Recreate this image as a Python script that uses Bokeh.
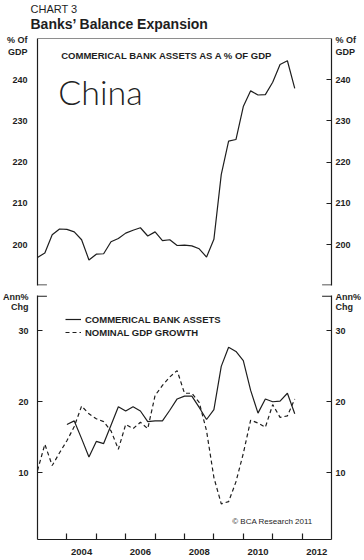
from bokeh.plotting import figure
from bokeh.models import (LinearAxis, FixedTicker, Label, Span, Legend, LegendItem, Range1d, Title)
from bokeh.layouts import column
from bokeh.embed import file_html
from bokeh.resources import INLINE

# ---------------- data ----------------
YEARS = list(range(2003, 2012))
QUARTERS = [f"{y}Q{q}" for y in YEARS for q in (1, 2, 3, 4)]   # 2003Q1 .. 2011Q4


def qpos(label):
    return int(label[:4]) + (int(label[5]) - 1) * 0.25


# Commercial bank assets, % of GDP (2003Q1 .. 2011Q4)
BANK_ASSETS_PCT_GDP = [196.9, 198.0, 202.4, 203.8, 203.7, 203.1, 201.2, 196.3,
                       197.7, 197.8, 200.7, 201.5, 202.8, 203.5, 204.1, 202.1,
                       203.1, 201.0, 201.2, 199.8, 199.9, 199.7, 199.0, 197.0,
                       201.3, 217.0, 225.1, 225.5, 233.5, 237.3, 236.3, 236.4,
                       239.4, 243.7, 244.6, 237.9]
# Commercial bank assets, annual % change (2004Q1 .. 2011Q4)
BANK_ASSETS_GROWTH = [16.8, 17.3, 14.8, 12.2, 14.4, 14.1, 16.7, 19.3,
                      18.7, 19.3, 18.7, 17.2, 17.3, 17.3, 18.8, 20.4,
                      20.8, 20.8, 19.2, 17.5, 18.9, 25.0, 27.7, 27.1,
                      25.8, 21.6, 18.4, 20.4, 20.0, 20.1, 21.2, 18.3]
# Nominal GDP growth, annual % change (2003Q1 .. 2011Q4)
NOMINAL_GDP_GROWTH = [10.3, 14.0, 11.0, 12.8, 14.5, 16.5, 19.4, 18.3,
                      17.6, 17.2, 15.9, 13.3, 16.8, 16.2, 17.1, 16.2,
                      20.9, 22.3, 23.5, 24.4, 21.2, 21.2, 19.9, 15.9,
                      9.3, 5.6, 5.9, 8.7, 12.7, 17.4, 17.0, 16.4,
                      19.6, 17.8, 18.0, 20.4]

TOP_TICKS = [200, 210, 220, 230, 240]
BOTTOM_TICKS = [10, 20, 30]
YEAR_TICKS = list(range(2004, 2013))
YEAR_LABELS = ["2004", "2006", "2008", "2010", "2012"]
UNIT_TOP = ["% Of", "GDP"]
UNIT_BOTTOM = ["Ann%", "Chg"]

x_all = [qpos(q) for q in QUARTERS]
x_growth = x_all[-len(BANK_ASSETS_GROWTH):]

# ---------------- style / geometry ----------------
INK = "#1e1e1e"
FONT = "Liberation Sans"
W = 364
BL, BR = 34, 33                  # left / right borders (frame 297 px wide)
FW = W - BL - BR
XMIN, XMAX = 2003.0, 2013.0
T_TOP, T_BOT, T_H = 38, 5, 290   # top figure
TY0, TY1 = 190.1, 250.0
B_TOP, B_BOT, B_H = 5, 21, 270   # bottom figure
BY1 = 35.0
T_FH = T_H - T_TOP - T_BOT
B_FH = B_H - B_TOP - B_BOT
B_PX = 7.085                     # px per unit, bottom
BY0 = BY1 - B_FH / B_PX
T_PX = T_FH / (TY1 - TY0)        # px per unit, top


def X(px):
    return XMIN + (px - BL) * (XMAX - XMIN) / FW


def YT(py):                      # page y -> top-panel value
    return TY1 - (py - T_TOP) / T_PX


def YB(py):                      # page y -> bottom-panel value
    return BY1 - (py - T_H - B_TOP) / B_PX


def lab(p, x, y, text, size="9px", style="bold", align="left", font=FONT, color=INK):
    p.add_layout(Label(x=x, y=y, text=text, text_font=font, text_font_size=size,
                       text_font_style=style, text_align=align,
                       text_baseline="middle", text_color=color))


def style_axis(ax, ticks, unit_ticks, units, marks, standoff):
    # labelled majors (numbers + unit captions), unlabelled minors draw the marks
    majors = list(ticks) + list(unit_ticks)
    ax.ticker = FixedTicker(ticks=majors, minor_ticks=list(ticks) if marks else [])
    ax.major_label_overrides = {**{t: str(t) for t in ticks},
                                **{t: u for t, u in zip(unit_ticks, units)}}
    ax.axis_line_color = INK
    ax.axis_line_width = 1.2
    ax.major_tick_line_color = None
    ax.major_tick_in = 0
    ax.major_tick_out = 0
    ax.minor_tick_line_color = INK
    ax.minor_tick_line_width = 1.2
    ax.minor_tick_in = 5
    ax.minor_tick_out = 0
    ax.major_label_text_font = FONT
    ax.major_label_text_font_size = "9px"
    ax.major_label_text_font_style = "bold"
    ax.major_label_text_color = INK
    ax.major_label_standoff = standoff


def base_fig(height, y0, y1, top, bottom, xaxis):
    p = figure(width=W, height=height, x_range=Range1d(XMIN, XMAX), y_range=Range1d(y0, y1),
               output_backend="svg", toolbar_location=None,
               x_axis_location="below" if xaxis else None, y_axis_location=None,
               min_border_left=BL, min_border_right=BR,
               min_border_top=top, min_border_bottom=bottom)
    p.outline_line_color = None
    p.background_fill_color = "white"
    p.border_fill_color = "white"
    return p


stub = 0.32

# ---------------- top panel ----------------
top = base_fig(T_H, TY0, TY1, T_TOP, T_BOT, False)
top_unit_ticks = [TY1 - 1.0 / T_PX, TY1 - 13.5 / T_PX]
lax = LinearAxis()
style_axis(lax, TOP_TICKS, top_unit_ticks, UNIT_TOP, False, 10)
top.add_layout(lax, "left")
rax = LinearAxis()
style_axis(rax, TOP_TICKS, top_unit_ticks, UNIT_TOP, True, 4)
top.add_layout(rax, "right")
top.grid.visible = False

# titles stack upward from the frame: headline first, then "CHART 3"
top.add_layout(Title(text="Banks\u2019 Balance Expansion", align="left", offset=-7, standoff=13,
                     text_font=FONT, text_font_size="14px", text_font_style="bold",
                     text_color=INK), "above")
top.add_layout(Title(text="CHART 3", align="left", offset=-7, standoff=-14,
                     text_font="Liberation Sans Narrow, Liberation Sans", text_font_size="11px",
                     text_font_style="normal", text_color=INK), "above")

top.add_layout(Span(location=TY1, dimension="width", line_color=INK, line_width=1.2))
top.segment(x0=[XMIN, XMAX - stub], x1=[XMIN + stub, XMAX],
            y0=[TY0 + 0.12] * 2, y1=[TY0 + 0.12] * 2, line_color=INK, line_width=1.2)

top.line(x_all, BANK_ASSETS_PCT_GDP, line_color=INK, line_width=1.2)

lab(top, X(58), YT(54.5), "COMMERICAL BANK ASSETS AS A % OF GDP", size="9.5px")
lab(top, X(55), YT(91), "China", size="34px", style="normal",
    font="Lato Light, DejaVu Sans", color="#222222")

# ---------------- bottom panel ----------------
bot = base_fig(B_H, BY0, BY1, B_TOP, B_BOT, True)
xa = bot.xaxis[0]
xa.ticker = FixedTicker(ticks=[int(y) + 0.5 for y in YEAR_LABELS], minor_ticks=YEAR_TICKS)
xa.major_label_overrides = {int(y) + 0.5: y for y in YEAR_LABELS}
xa.axis_line_color = INK
xa.axis_line_width = 1.2
xa.major_tick_line_color = None
xa.major_tick_in = 0
xa.major_tick_out = 0
xa.minor_tick_line_color = INK
xa.minor_tick_line_width = 1.2
xa.minor_tick_in = 6
xa.minor_tick_out = 0
xa.major_label_text_font = FONT
xa.major_label_text_font_size = "9.5px"
xa.major_label_text_font_style = "bold"
xa.major_label_text_color = INK
xa.major_label_standoff = 9

bot_unit_ticks = [BY1 - 1.0 / B_PX, BY1 - 11.5 / B_PX]
blax = LinearAxis()
style_axis(blax, BOTTOM_TICKS, bot_unit_ticks, UNIT_BOTTOM, True, 9)
bot.add_layout(blax, "left")
brax = LinearAxis()
style_axis(brax, BOTTOM_TICKS, bot_unit_ticks, UNIT_BOTTOM, True, 4)
bot.add_layout(brax, "right")
bot.grid.visible = False

bot.segment(x0=[XMIN, XMAX - stub], x1=[XMIN + stub, XMAX],
            y0=[BY1 - 0.08] * 2, y1=[BY1 - 0.08] * 2, line_color=INK, line_width=1.2)

r_assets = bot.line(x_growth, BANK_ASSETS_GROWTH, line_color=INK, line_width=1.2)
r_gdp = bot.line(x_all, NOMINAL_GDP_GROWTH, line_color=INK, line_width=1.2, line_dash="4 3")

legend = Legend(items=[LegendItem(label="COMMERICAL BANK ASSETS", renderers=[r_assets]),
                       LegendItem(label="NOMINAL GDP GROWTH", renderers=[r_gdp])],
                location=(28, B_FH - 43))
legend.glyph_width = 16
legend.glyph_height = 12
legend.label_height = 12
legend.label_standoff = 4
legend.spacing = 1
legend.padding = 0
legend.margin = 0
legend.border_line_color = None
legend.background_fill_alpha = 0
legend.label_text_font = FONT
legend.label_text_font_size = "9.5px"
legend.label_text_font_style = "bold"
legend.label_text_color = INK
bot.add_layout(legend)

lab(bot, X(312), YB(520.5), "\u00a9 BCA Research 2011", size="8px", style="normal", align="right")

layout = column(top, bot, spacing=0)
open("out.html", "w").write(file_html(layout, INLINE))
